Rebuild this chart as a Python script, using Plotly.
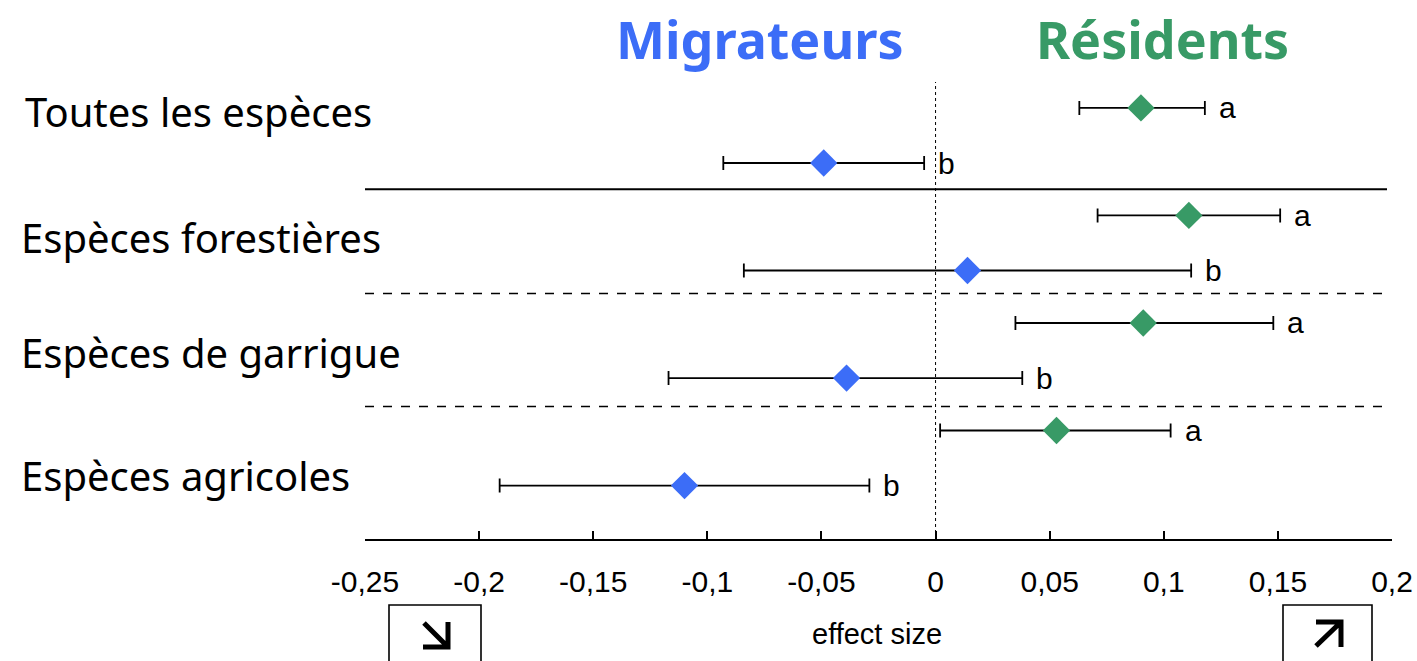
import plotly.graph_objects as go

groups = ["Toutes les espèces", "Espèces forestières", "Espèces de garrigue", "Espèces agricoles"]
res_mean = [0.090, 0.111, 0.091, 0.053]
res_lo = [0.063, 0.071, 0.035, 0.002]
res_hi = [0.118, 0.151, 0.148, 0.103]
res_letter = ["a", "a", "a", "a"]
mig_mean = [-0.049, 0.014, -0.039, -0.110]
mig_lo = [-0.093, -0.084, -0.117, -0.191]
mig_hi = [-0.005, 0.112, 0.038, -0.029]
mig_letter = ["b", "b", "b", "b"]
tick_vals = [-0.25, -0.2, -0.15, -0.1, -0.05, 0, 0.05, 0.1, 0.15, 0.2]
tick_text = ["-0,25", "-0,2", "-0,15", "-0,1", "-0,05", "0", "0,05", "0,1", "0,15", "0,2"]

GREEN = "#389a66"
BLUE = "#3c6df7"
OFF = 0.256
label_y = [-0.22, 0.953, 2.023, 3.167]

# page-pixel -> paper helpers (plot area spans x 365..1392, y 80..539 on the page)
def PX(px):
    return (px - 365) / 1027

def PY(py):
    return (539 - py) / 459

y_res = [i - OFF for i in range(len(groups))]
y_mig = [i + OFF for i in range(len(groups))]

fig = go.Figure()

def add_series(means, lo, hi, ys, color):
    fig.add_trace(go.Scatter(
        x=means, y=ys, mode="markers",
        marker=dict(symbol="diamond", size=21, color=color, line=dict(width=0)),
        error_x=dict(type="data", symmetric=False,
                     array=[h - m for h, m in zip(hi, means)],
                     arrayminus=[m - l for m, l in zip(means, lo)],
                     color="black", thickness=1.8, width=7),
        showlegend=False, hoverinfo="skip"))

add_series(res_mean, res_lo, res_hi, y_res, GREEN)
add_series(mig_mean, mig_lo, mig_hi, y_mig, BLUE)

# letters
for hi, y, t in zip(res_hi + mig_hi, y_res + y_mig, res_letter + mig_letter):
    fig.add_annotation(x=hi, y=y, text=t, showarrow=False, xanchor="left", xshift=12,
                       yanchor="middle",
                       font=dict(family="Liberation Sans, Arial", size=30, color="black"))

# group labels
for i, (g, y) in enumerate(zip(groups, label_y)):
    fig.add_annotation(x=PX(23 if i == 0 else 19), xref="paper", y=y, yref="y",
                       text=g, showarrow=False, xanchor="left", yanchor="middle",
                       font=dict(family="Noto Sans", size=40, color="black"))

# separators
fig.add_shape(type="line", xref="paper", x0=0, x1=PX(1387), yref="y", y0=0.5, y1=0.5,
              line=dict(color="black", width=2))
for yv in [1.47, 2.52]:
    fig.add_shape(type="line", xref="paper", x0=0, x1=PX(1387), yref="y", y0=yv, y1=yv,
                  line=dict(color="black", width=1.6, dash="dash"))
# zero line
fig.add_shape(type="line", x0=0, x1=0, yref="paper", y0=0, y1=PY(82),
              line=dict(color="black", width=1, dash="dot"))

# titles
fig.add_annotation(xref="paper", yref="paper", x=PX(760), y=PY(38), text="<b>Migrateurs</b>",
                   showarrow=False, xanchor="center", yanchor="middle",
                   font=dict(family="Noto Sans", size=52, color=BLUE))
fig.add_annotation(xref="paper", yref="paper", x=PX(1162), y=PY(38), text="<b>Résidents</b>",
                   showarrow=False, xanchor="center", yanchor="middle",
                   font=dict(family="Noto Sans", size=52, color=GREEN))

# axis title
fig.add_annotation(xref="paper", yref="paper", x=PX(877), y=PY(634),
                   text="effect size", showarrow=False, xanchor="center", yanchor="middle",
                   font=dict(family="Liberation Sans, Arial", size=29, color="black"))

# arrow boxes
for x0, x1 in [(389, 481), (1283, 1372)]:
    fig.add_shape(type="rect", xref="paper", yref="paper",
                  x0=PX(x0), x1=PX(x1), y0=PY(668), y1=PY(605),
                  line=dict(color="black", width=1.6), fillcolor="rgba(0,0,0,0)")

def seg(pts):
    return "M " + " L ".join(f"{PX(a):.5f},{PY(b):.5f}" for a, b in pts)

# down-right arrow (left box)
arrow_dr = seg([(424, 623), (448, 647)]) + " " + seg([(448, 622), (448, 647), (423, 647)])
# up-right arrow (right box)
arrow_ur = seg([(1316, 646), (1341, 622)]) + " " + seg([(1316, 622), (1341, 622), (1341, 647)])
for p in [arrow_dr, arrow_ur]:
    fig.add_shape(type="path", xref="paper", yref="paper", path=p,
                  line=dict(color="black", width=5))

fig.update_layout(
    width=1417, height=661,
    margin=dict(l=365, r=25, t=80, b=122, autoexpand=False),
    plot_bgcolor="white", paper_bgcolor="white",
    xaxis=dict(range=[-0.25, 0.2], tickvals=tick_vals, ticktext=tick_text,
               automargin=False,
               showgrid=False, zeroline=False, showline=True, linecolor="black", linewidth=2,
               ticks="inside", ticklen=8, tickwidth=2, tickcolor="black",
               ticklabelstandoff=15,
               tickfont=dict(family="Liberation Sans, Arial", size=30, color="black")),
    yaxis=dict(range=[3.753, -0.516], visible=False, showgrid=False, zeroline=False,
               automargin=False),
)

fig.write_html("out.html", config={"displayModeBar": False},
               post_script="document.body.style.margin='0px';document.body.style.overflow='hidden';")
